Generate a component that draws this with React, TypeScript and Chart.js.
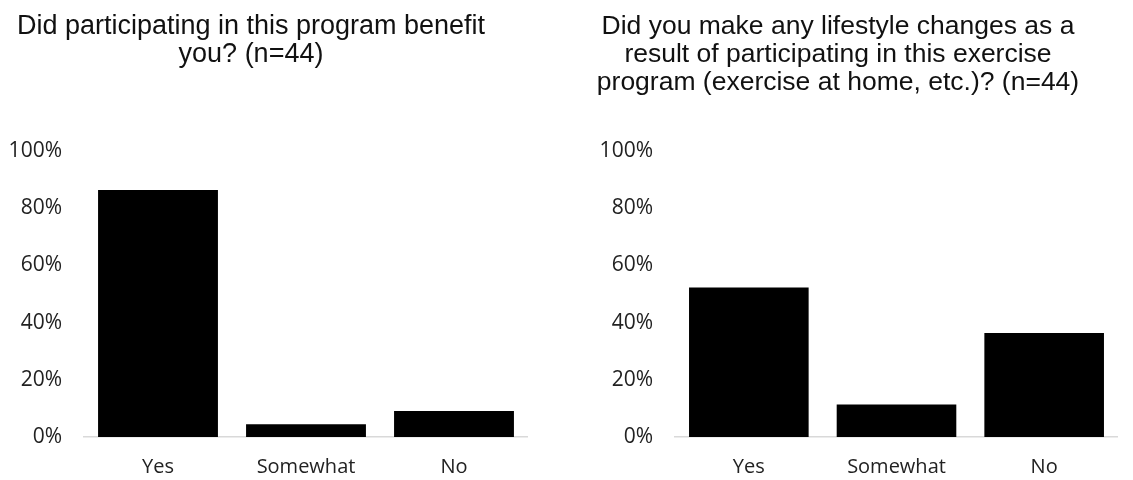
import React, { useEffect, useRef } from "react";
import { Chart, registerables } from "chart.js";

Chart.register(...registerables);

const categories = ["Yes", "Somewhat", "No"];
const benefitValues = [86.4, 4.5, 9.1];
const lifestyleValues = [52.3, 11.4, 36.4];
const benefitTitle = ["Did participating in this program benefit", "you? (n=44)"];
const lifestyleTitle = [
  "Did you make any lifestyle changes as a",
  "result of participating in this exercise",
  "program (exercise at home, etc.)? (n=44)",
];
const yMax = 100;
const yStep = 20;

type PanelProps = {
  title: string[];
  titleSize: number;
  values: number[];
  left: number;
  width: number;
  axisWidth: number;
  titleBottom: number;
};

function BarPanel({ title, titleSize, values, left, width, axisWidth, titleBottom }: PanelProps) {
  const ref = useRef<HTMLCanvasElement | null>(null);
  useEffect(() => {
    if (!ref.current) return;
    const chart = new Chart(ref.current, {
      type: "bar",
      data: {
        labels: categories,
        datasets: [
          {
            data: values,
            backgroundColor: "#000000",
            borderWidth: 0,
            barPercentage: 0.81,
            categoryPercentage: 1,
          },
        ],
      },
      options: {
        responsive: false,
        animation: false,
        devicePixelRatio: 1,
        layout: { padding: 0 },
        plugins: {
          legend: { display: false },
          tooltip: { enabled: false },
          title: {
            display: true,
            text: title,
            color: "#111111",
            font: {
              family: "'Liberation Sans', Arial, sans-serif",
              size: titleSize,
              weight: "normal",
              lineHeight: 27.8 / titleSize,
            },
            padding: { top: 13, bottom: titleBottom },
          },
        },
        scales: {
          x: {
            grid: { display: false },
            border: { display: true, color: "#d9d9d9", width: 1.5 },
            ticks: {
              color: "#222222",
              font: { family: "'Open Sans', sans-serif", size: 20 },
              padding: 10,
            },
            afterFit: (scale: any) => {
              scale.height = 43;
            },
          },
          y: {
            min: 0,
            max: yMax,
            grid: { display: false },
            border: { display: false },
            ticks: {
              stepSize: yStep,
              color: "#222222",
              font: { family: "'Open Sans', sans-serif", size: 21 },
              padding: 14,
              callback: (v: any) => `${v}%`,
            },
            afterFit: (scale: any) => {
              scale.width = axisWidth;
            },
          },
        },
      },
    });
    return () => chart.destroy();
  }, [title, titleSize, values, axisWidth, titleBottom]);

  return (
    <div style={{ position: "absolute", left, top: 0, width, height: 480 }}>
      <canvas ref={ref} width={width} height={480} />
    </div>
  );
}

export default function App() {
  return (
    <div
      style={{
        position: "fixed",
        left: 0,
        top: 0,
        width: 1133,
        height: 480,
        background: "#ffffff",
        overflow: "hidden",
      }}
    >
      <BarPanel
        title={benefitTitle}
        titleSize={27}
        values={benefitValues}
        left={-26}
        width={554}
        axisWidth={110}
        titleBottom={82.4}
      />
      <BarPanel
        title={lifestyleTitle}
        titleSize={26.5}
        values={lifestyleValues}
        left={558}
        width={560}
        axisWidth={117}
        titleBottom={54.6}
      />
    </div>
  );
}
